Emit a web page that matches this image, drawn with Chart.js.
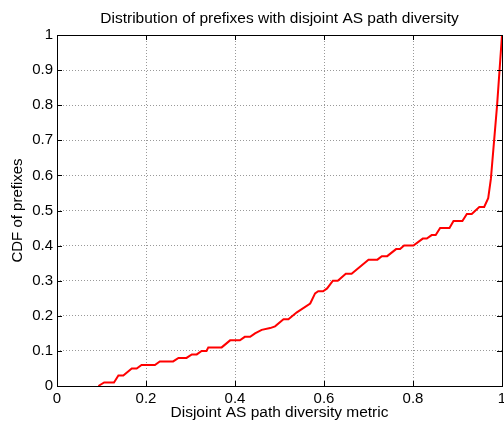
<!DOCTYPE html>
<html>
<head>
<meta charset="utf-8">
<script src="https://cdn.jsdelivr.net/npm/chart.js@4"></script>
<style>
  html, body { margin: 0; padding: 0; background: #fff; }
  #wrap { width: 504px; height: 424px; }
</style>
</head>
<body>
<div id="wrap"><canvas id="cdf" width="504" height="424"></canvas></div>
<script>
// curve (diversity metric, CDF)
const xVals = [0.093, 0.106, 0.128, 0.138, 0.149, 0.168, 0.179, 0.190, 0.220, 0.231,
               0.261, 0.273, 0.291, 0.303, 0.314, 0.325, 0.336, 0.340, 0.370, 0.389,
               0.411, 0.422, 0.434, 0.445, 0.460, 0.479, 0.490, 0.509, 0.520, 0.539,
               0.569, 0.580, 0.587, 0.598, 0.607, 0.620, 0.631, 0.649, 0.662, 0.700,
               0.720, 0.730, 0.742, 0.762, 0.771, 0.780, 0.801, 0.822, 0.831, 0.842,
               0.851, 0.861, 0.882, 0.891, 0.911, 0.921, 0.932, 0.949, 0.960, 0.969,
               0.975, 0.989, 1.0];
const yVals = [0, 0.01, 0.01, 0.03, 0.03, 0.05, 0.05, 0.06, 0.06, 0.07,
               0.07, 0.08, 0.08, 0.09, 0.09, 0.10, 0.10, 0.11, 0.11, 0.13,
               0.13, 0.14, 0.14, 0.15, 0.16, 0.165, 0.17, 0.19, 0.19, 0.21,
               0.235, 0.264, 0.27, 0.27, 0.278, 0.30, 0.30, 0.32, 0.32, 0.36,
               0.36, 0.37, 0.37, 0.39, 0.39, 0.40, 0.40, 0.42, 0.42, 0.43,
               0.43, 0.45, 0.45, 0.47, 0.47, 0.49, 0.49, 0.51, 0.51, 0.535,
               0.59, 0.80, 1.0];
const xTicks = [0, 0.2, 0.4, 0.6, 0.8, 1];
const yTicks = [0, 0.1, 0.2, 0.3, 0.4, 0.5, 0.6, 0.7, 0.8, 0.9, 1];

const points = xVals.map((x, i) => ({x: x, y: yVals[i]}));
const font = "'Liberation Sans', Arial, sans-serif";

// matlab style: box all round, ticks pointing inward
const boxPlugin = {
    id: 'box',
    afterDraw(chart) {
        const {ctx, chartArea: a, scales} = chart;
        ctx.save();
        ctx.strokeStyle = '#000';
        ctx.lineWidth = 1;
        ctx.beginPath();
        xTicks.forEach(t => {
            const px = Math.round(scales.x.getPixelForValue(t)) + 0.5;
            ctx.moveTo(px, a.bottom); ctx.lineTo(px, a.bottom - 5);
            ctx.moveTo(px, a.top); ctx.lineTo(px, a.top + 5);
        });
        yTicks.forEach(t => {
            const py = Math.round(scales.y.getPixelForValue(t)) + 0.5;
            ctx.moveTo(a.left, py); ctx.lineTo(a.left + 5, py);
            ctx.moveTo(a.right, py); ctx.lineTo(a.right - 5, py);
        });
        ctx.stroke();
        ctx.strokeRect(Math.round(a.left) + 0.5, Math.round(a.top) + 0.5,
                       Math.round(a.right - a.left), Math.round(a.bottom - a.top));
        ctx.restore();
    }
};

new Chart(document.getElementById('cdf'), {
    type: 'scatter',
    data: {
        datasets: [{
            data: points,
            showLine: true,
            borderColor: '#ff0000',
            borderWidth: 2,
            pointRadius: 0,
            tension: 0,
            clip: false
        }]
    },
    options: {
        responsive: false,
        animation: false,
        layout: {padding: {left: 0, right: 2, top: 0, bottom: 0}},
        plugins: {
            legend: {display: false},
            tooltip: {enabled: false},
            title: {
                display: true,
                text: 'Distribution of prefixes with disjoint AS path diversity',
                fullSize: false,
                color: '#000',
                font: {family: font, size: 15.5, weight: 'normal'},
                padding: {top: 9, bottom: 7.4}
            }
        },
        scales: {
            x: {
                type: 'linear',
                min: 0,
                max: 1,
                afterFit(s) { s.height = 38; s.paddingLeft = 0; s.paddingRight = 0; },
                afterBuildTicks(s) { s.ticks = xTicks.map(v => ({value: v})); },
                grid: {color: '#999999', drawTicks: false},
                border: {display: false, dash: [1, 2]},
                ticks: {
                    color: '#000', padding: 4, maxRotation: 0,
                    font: {family: font, size: 15},
                    callback: v => String(v)
                },
                title: {
                    display: true,
                    text: 'Disjoint AS path diversity metric',
                    color: '#000',
                    font: {family: font, size: 15.5},
                    padding: {top: 0, bottom: 2}
                }
            },
            y: {
                type: 'linear',
                min: 0,
                max: 1,
                afterFit(s) { s.width = 57; s.paddingTop = 0; s.paddingBottom = 0; },
                afterBuildTicks(s) { s.ticks = yTicks.map(v => ({value: v})); },
                grid: {color: '#999999', drawTicks: false},
                border: {display: false, dash: [1, 2]},
                ticks: {
                    color: '#000', padding: 4,
                    font: {family: font, size: 15},
                    callback: v => String(v)
                },
                title: {
                    display: true,
                    text: 'CDF of prefixes',
                    color: '#000',
                    font: {family: font, size: 15},
                    padding: {top: 9, bottom: 0}
                }
            }
        }
    },
    plugins: [boxPlugin]
});
</script>
</body>
</html>
